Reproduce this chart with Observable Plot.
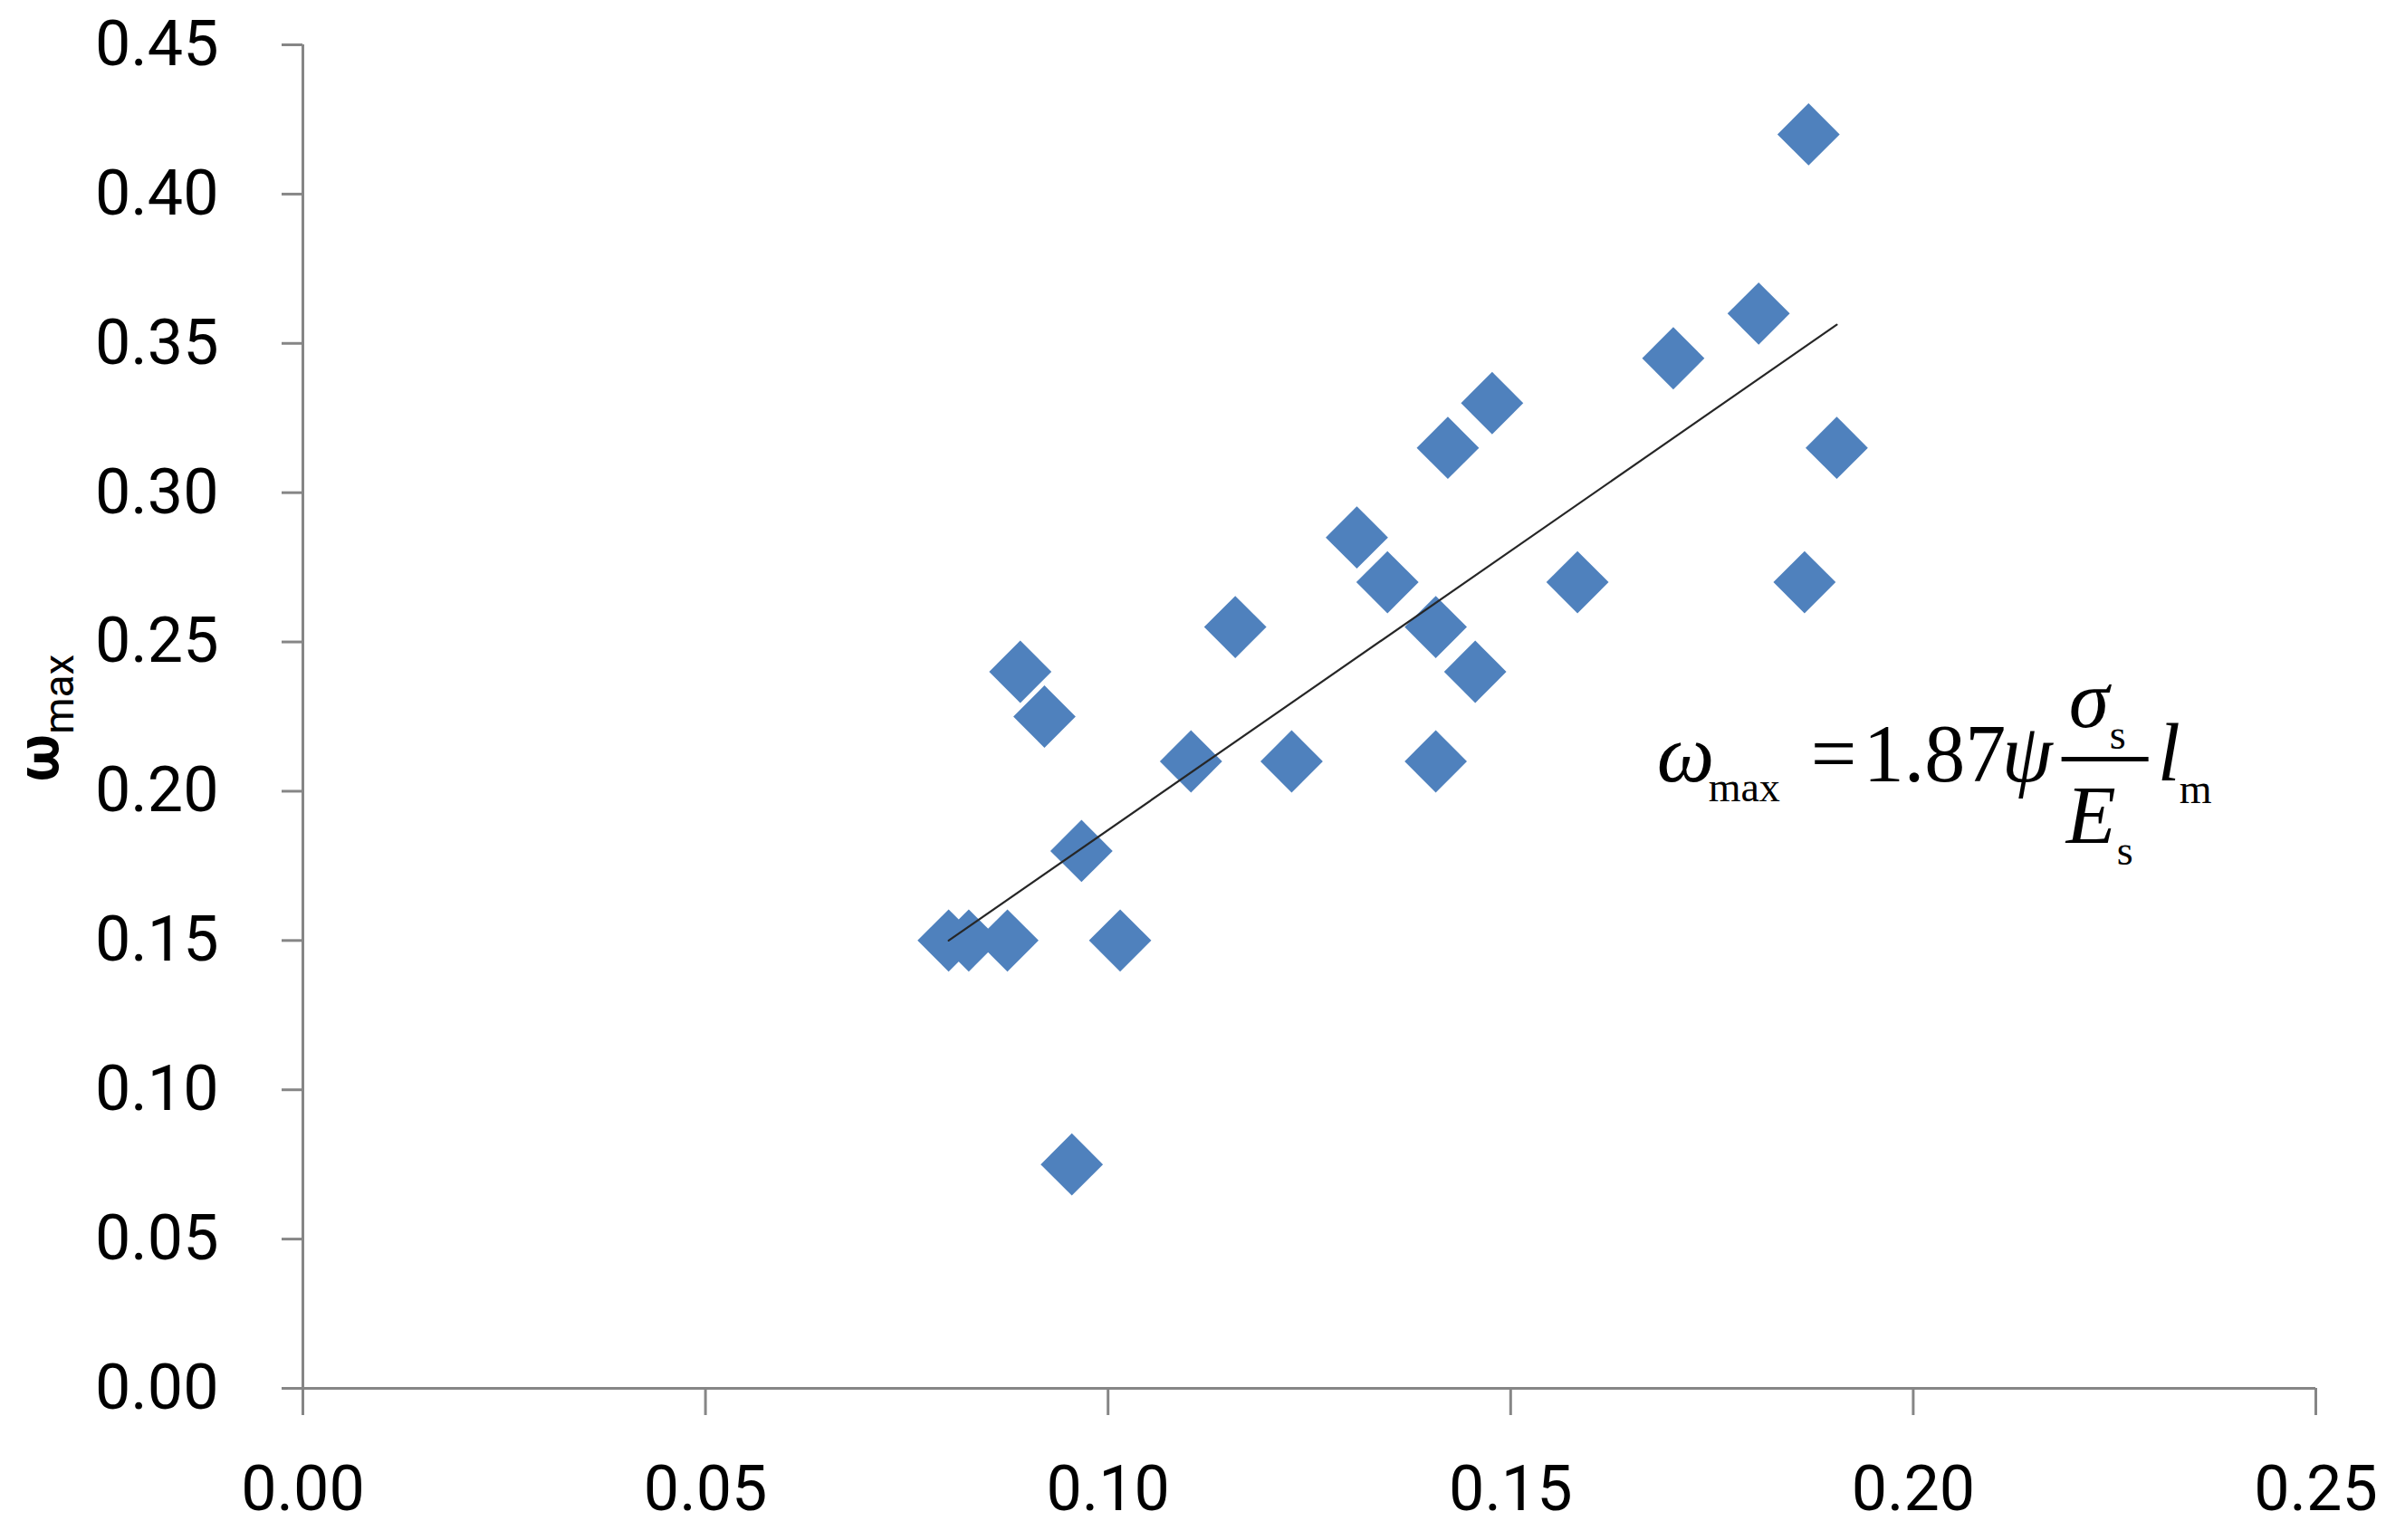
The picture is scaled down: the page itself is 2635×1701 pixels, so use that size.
<!DOCTYPE html>
<html>
<head>
<meta charset="utf-8">
<script src="https://cdn.jsdelivr.net/npm/d3@7"></script>
<script src="https://cdn.jsdelivr.net/npm/@observablehq/plot@0.6"></script>
<style>
  html, body { margin: 0; padding: 0; background: #ffffff; }
  svg { display: block; }
</style>
</head>
<body>
<div id="chart"></div>
<script>
// ---- Data ----
const xValues = [0.0802, 0.0827, 0.0875, 0.0891, 0.0921, 0.0955, 0.0967, 0.1015,
                 0.1103, 0.1158, 0.1228, 0.1309, 0.1347, 0.1407, 0.1407, 0.1422,
                 0.1456, 0.1477, 0.1583, 0.1702, 0.1808, 0.1865, 0.1870, 0.1905];
const yValues = [0.150, 0.150, 0.150, 0.240, 0.225, 0.075, 0.180, 0.150,
                 0.210, 0.255, 0.210, 0.285, 0.270, 0.255, 0.210, 0.315,
                 0.240, 0.330, 0.270, 0.345, 0.360, 0.270, 0.420, 0.315];
const fitSlope = 1.87;               // ω_max = 1.87 ψ σs/Es lm
const xTicks = [0, 0.05, 0.10, 0.15, 0.20, 0.25];
const yTicks = [0, 0.05, 0.10, 0.15, 0.20, 0.25, 0.30, 0.35, 0.40, 0.45];
const yLabelMain = "ω", yLabelSub = "max";
const formulaAt = {x: 0.1682, y: 0.2033};

// ---- Build tables ----
const points = xValues.map((x, i) => ({x, y: yValues[i]}));
const xMin = d3.min(xValues), xMax = d3.max(xValues);
const fit = [xMin, xMax].map(x => ({x, y: fitSlope * x}));
const fmt = d3.format(".2f");
const axisGray = "#868686";

const plot = Plot.plot({
  width: 2635,
  height: 1701,
  marginLeft: 334,
  marginRight: 78,
  marginTop: 49,
  marginBottom: 168,
  x: {domain: [0, 0.25]},
  y: {domain: [0, 0.45]},
  style: {fontFamily: "Roboto, 'Open Sans', sans-serif", fontSize: "70px", background: "#ffffff", color: "#000000"},
  marks: [
    Plot.ruleX([0], {stroke: axisGray, strokeWidth: 3}),
    Plot.ruleY([0], {stroke: axisGray, strokeWidth: 3}),
    Plot.axisX({ticks: xTicks, tickFormat: fmt, tickSize: 30, tickPadding: 55, stroke: axisGray, fill: "#000000", strokeWidth: 3, label: null}),
    Plot.axisY({ticks: yTicks, tickFormat: fmt, tickSize: 23, tickPadding: 70, stroke: axisGray, fill: "#000000", strokeWidth: 3, label: null}),
    Plot.dot(points, {x: "x", y: "y", symbol: "diamond2", r: 31, fill: "#4F81BD", stroke: null}),
    Plot.line(fit, {x: "x", y: "y", stroke: "#262626", strokeWidth: 2.2})
  ]
});

document.getElementById("chart").appendChild(plot);
const svg = d3.select(plot);

// ---- Y-axis title: ω_max (rotated) ----
const yl = svg.append("text")
  .attr("transform", "translate(64,793) rotate(-90)")
  .attr("text-anchor", "middle")
  .attr("font-family", "Roboto, 'Open Sans', sans-serif")
  .attr("fill", "#000000");
yl.append("tspan").attr("font-weight", "bold").attr("font-size", 64).text(yLabelMain);
yl.append("tspan").attr("font-size", 46).attr("dy", 17).text(yLabelSub);

// ---- Formula annotation ----
const fx = plot.scale("x").apply(formulaAt.x);
const fy = plot.scale("y").apply(formulaAt.y);
const g = svg.append("g")
  .attr("transform", `translate(${fx},${fy})`)
  .attr("text-anchor", "start")
  .attr("font-family", "'Liberation Serif', 'Times New Roman', serif")
  .attr("fill", "#000000");
const parts = [
  {t: "ω",    dx: 0,   dy: 0,   size: 90, italic: true},
  {t: "max",  dx: 57,  dy: 22,  size: 46},
  {t: "=",    dx: 170, dy: 0,   size: 90},
  {t: "1.87", dx: 228, dy: 0,   size: 90},
  {t: "ψ",    dx: 381, dy: 0,   size: 90, italic: true},
  {t: "σ",    dx: 455, dy: -60, size: 90, italic: true},
  {t: "s",    dx: 500, dy: -36, size: 46},
  {t: "E",    dx: 452, dy: 68,  size: 90, italic: true},
  {t: "s",    dx: 508, dy: 92,  size: 46},
  {t: "l",    dx: 553, dy: -1,  size: 90, italic: true},
  {t: "m",    dx: 577, dy: 24,  size: 46}
];
parts.forEach(p => {
  g.append("text")
    .attr("x", p.dx).attr("y", p.dy)
    .attr("font-size", p.size)
    .attr("font-style", p.italic ? "italic" : "normal")
    .text(p.t);
});
g.append("line")
  .attr("x1", 447).attr("x2", 543)
  .attr("y1", -24).attr("y2", -24)
  .attr("stroke", "#000000").attr("stroke-width", 5);
</script>
</body>
</html>
